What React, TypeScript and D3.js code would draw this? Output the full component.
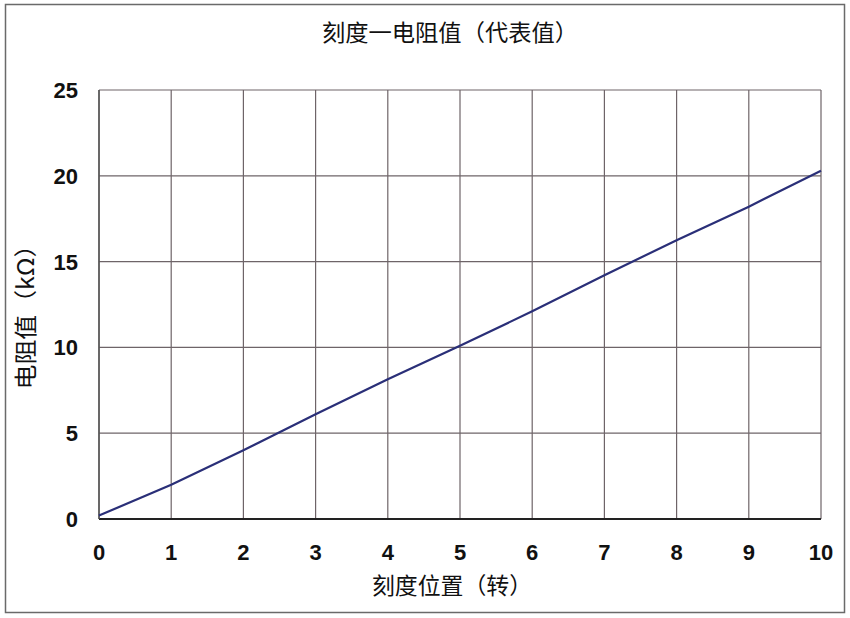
import React from "react";
import * as d3 from "d3";

const xTicks = [0, 1, 2, 3, 4, 5, 6, 7, 8, 9, 10];
const yTicks = [0, 5, 10, 15, 20, 25];
const turns = [0, 1, 2, 3, 4, 5, 6, 7, 8, 9, 10];
const resistance = [0.2, 2.0, 4.0, 6.1, 8.15, 10.1, 12.1, 14.2, 16.25, 18.2, 20.3];

const title = "刻度一电阻值（代表值）";
const xLabel = "刻度位置（转）";
const yLabel = "电阻值（kΩ）";

export default function App() {
  const W = 850, H = 618;
  const left = 99, right = 821, top = 90, bottom = 519;
  const x = d3.scaleLinear().domain([0, 10]).range([left, right]);
  const y = d3.scaleLinear().domain([0, 25]).range([bottom, top]);
  const line = d3.line<number>().x((_, i) => x(turns[i])).y((d) => y(d));
  const numFont = "'Liberation Sans Narrow', 'Liberation Sans', Arial, sans-serif";
  const cjk = "'Noto Sans CJK SC', 'Noto Sans', sans-serif";
  const grid = "#6e6468";
  return (
    <svg width={W} height={H} style={{ position: "absolute", left: 0, top: 0 }}>
      <rect x={0} y={0} width={W} height={H} fill="#fff" />
      <rect x={5.5} y={4.5} width={839} height={608} fill="none" stroke="#6a6a6a" strokeWidth={1.5} />
      <text x={450} y={41} textAnchor="middle" fontFamily={cjk} fontSize={23} fill="#111" textLength={256} lengthAdjust="spacingAndGlyphs">{title}</text>
      {xTicks.map((t) => (
        <line key={"gx" + t} x1={x(t)} x2={x(t)} y1={top} y2={bottom} stroke={grid} strokeWidth={1.2} />
      ))}
      {yTicks.map((t) => (
        <line key={"gy" + t} x1={left} x2={right} y1={y(t)} y2={y(t)} stroke={t === 0 ? "#222" : grid} strokeWidth={t === 0 ? 2 : 1.2} />
      ))}
      <line x1={left} x2={left} y1={top} y2={bottom} stroke="#555" strokeWidth={1.5} />
      <path d={line(resistance) || ""} fill="none" stroke="#2a2f78" strokeWidth={2.2} />
      {yTicks.map((t) => (
        <text key={"ly" + t} x={78} y={y(t)} dy="0.36em" textAnchor="end" fontFamily={numFont} fontWeight="bold" fontSize={22} fill="#111">{t}</text>
      ))}
      {xTicks.map((t) => (
        <text key={"lx" + t} x={x(t)} y={552} dy="0.36em" textAnchor="middle" fontFamily={numFont} fontWeight="bold" fontSize={22} fill="#111">{t}</text>
      ))}
      <text x={452} y={594} textAnchor="middle" fontFamily={cjk} fontSize={23} fill="#111" textLength={160} lengthAdjust="spacingAndGlyphs">{xLabel}</text>
      <text transform={`translate(34,311) rotate(-90)`} textAnchor="middle" fontFamily={cjk} fontSize={23} fill="#111" textLength={157} lengthAdjust="spacingAndGlyphs">{yLabel}</text>
    </svg>
  );
}
